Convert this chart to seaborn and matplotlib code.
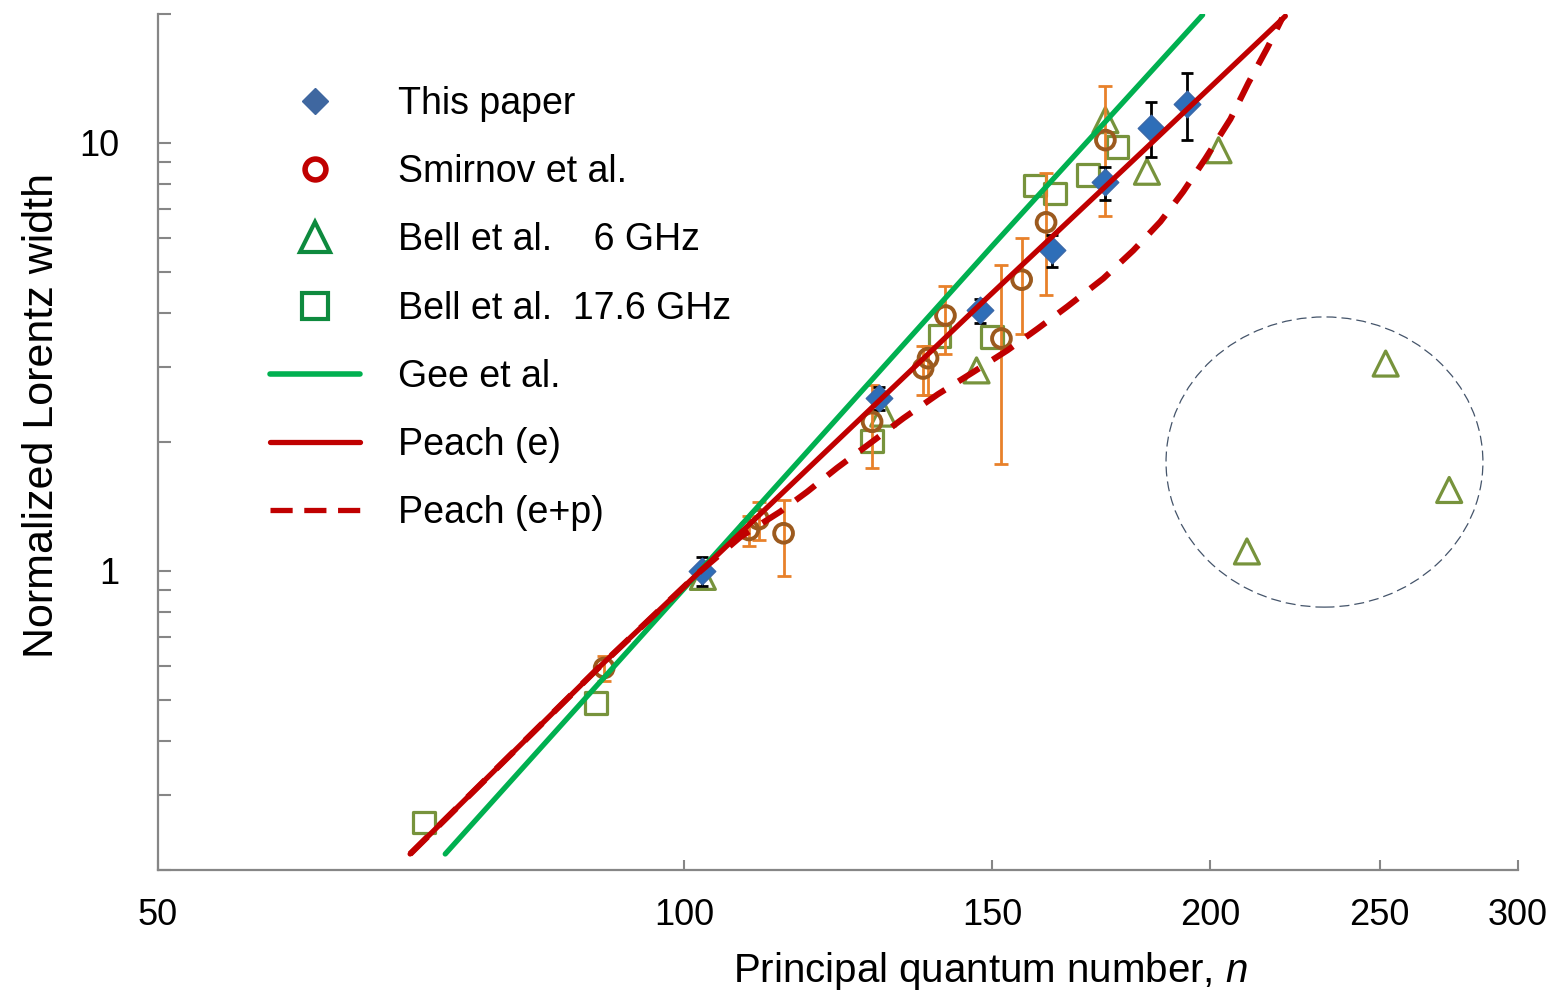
#!/usr/bin/env python3

import matplotlib
matplotlib.use("Agg")
import matplotlib.pyplot as plt
import numpy as np
import pandas as pd
import seaborn as sns
from matplotlib.lines import Line2D
from matplotlib.patches import Ellipse
from matplotlib.ticker import FixedLocator, FixedFormatter, NullLocator, NullFormatter


# This paper (blue diamonds, black error bars)
tp_n = [102.4, 129.2, 147.6, 162.3, 174.1, 185.0, 193.9]
tp_w = [1.00, 2.53, 4.06, 5.61, 8.08, 10.86, 12.35]
tp_err = [0.08, 0.16, 0.26, 0.49, 0.72, 1.6, 2.2]

# Smirnov et al. (circles, orange error bars)
sm_n = [90.0, 108.9, 110.3, 114.0, 128.1, 137.0, 137.9, 141.1, 151.9, 156.0, 161.1, 174.2]
sm_w = [0.593, 1.246, 1.32, 1.224, 2.23, 2.97, 3.14, 3.95, 3.49, 4.79, 6.52, 10.15]
sm_lo = [0.04, 0.10, 0.14, 0.25, 0.49, 0.40, 0.57, 0.74, 1.71, 1.22, 2.11, 3.39]
sm_hi = [0.04, 0.10, 0.13, 0.24, 0.49, 0.39, 0.22, 0.69, 1.68, 1.21, 2.00, 3.43]

# Bell et al. 6 GHz (triangles)
b6_n = [102.5, 130.0, 147.0, 174.2, 184.0, 202.2, 209.9, 252.0, 274.0]
b6_w = [0.968, 2.33, 2.94, 11.3, 8.56, 9.61, 1.11, 3.05, 1.545]

# Bell et al. 17.6 GHz (squares)
b17_n = [71.0, 89.05, 128.1, 140.0, 150.0, 158.8, 163.0, 170.2, 177.0]
b17_w = [0.258, 0.491, 2.01, 3.54, 3.52, 7.94, 7.62, 8.42, 9.79]

# Gee et al.
gee_n = [73.0, 100.0, 150.0, 198.0]
gee_w = [0.218, 0.909, 5.73, 19.9]

# Peach (e)
pe_n = [69.7, 89.5, 102.1, 147.5, 183.1, 220.8]
pe_w = [0.218, 0.598, 0.996, 4.17, 9.58, 19.77]

# Peach (e+p)
pep_n = [69.7, 89.5, 102.1, 107.7, 113.5, 117.6, 122.3, 127.8, 133.5, 139.7, 146.3,
         153.1, 159.4, 165.7, 173.7, 180.7, 187.3, 193.0, 198.7, 205.4, 210.3,
         215.6, 219.9]
pep_w = [0.218, 0.598, 0.996, 1.200, 1.375, 1.530, 1.739, 1.988, 2.273, 2.586, 2.910,
         3.275, 3.685, 4.147, 4.819, 5.602, 6.545, 7.69, 9.18, 11.37, 13.80,
         16.65, 19.56]

x_ticks = [50, 100, 150, 200, 250, 300]
x_tick_labels = ["50", "100", "150", "200", "250", "300"]
y_ticks = [1, 10]
y_tick_labels = ["1", "10"]

legend_labels = ["This paper", "Smirnov et al.", "Bell et al.    6 GHz",
                 "Bell et al.  17.6 GHz", "Gee et al.", "Peach (e)", "Peach (e+p)"]

BLUE = "#2E6EB8"
BROWN = "#9C5A1E"
ORANGE = "#E8812A"
OLIVE = "#77933C"
GREEN = "#00B050"
DKGREEN = "#0E8A3E"
RED = "#C00000"
GRAY = "#868686"


def plot_widths(output):
    sns.set_theme(style="white")
    plt.rcParams["font.family"] = ["Liberation Sans", "DejaVu Sans"]
    plt.rcParams["mathtext.fontset"] = "custom"
    plt.rcParams["mathtext.it"] = "Liberation Sans:italic"
    plt.rcParams["mathtext.rm"] = "Liberation Sans"
    plt.rcParams["text.color"] = "black"
    plt.rcParams["axes.labelcolor"] = "black"

    fig, ax = plt.subplots(figsize=(15.52, 9.98), dpi=100)
    fig.subplots_adjust(left=158 / 1552, right=1518 / 1552,
                        bottom=1 - 870 / 998, top=1 - 14 / 998)
    ax.set_xscale("log")
    ax.set_yscale("log")

    # open markers first
    sns.scatterplot(x=b17_n, y=b17_w, marker="s", s=15.5 ** 2, facecolor="none",
                    edgecolor=OLIVE, linewidth=2.3, ax=ax, zorder=3)
    sns.scatterplot(x=b6_n, y=b6_w, marker="^", s=18 ** 2, facecolor="none",
                    edgecolor=OLIVE, linewidth=2.3, ax=ax, zorder=3)

    ax.errorbar(sm_n, sm_w, yerr=[sm_lo, sm_hi], fmt="none", ecolor=ORANGE,
                elinewidth=2, capsize=4.7, capthick=2, zorder=4)
    sns.scatterplot(x=sm_n, y=sm_w, marker="o", s=13.5 ** 2, facecolor="none",
                    edgecolor=BROWN, linewidth=2.8, ax=ax, zorder=5)

    ax.errorbar(tp_n, tp_w, yerr=tp_err, fmt="none", ecolor="black",
                elinewidth=2, capsize=4.3, capthick=2, zorder=4)
    sns.scatterplot(x=tp_n, y=tp_w, marker="D", s=13.5 ** 2, color=BLUE,
                    edgecolor="#3B68A8", linewidth=1, ax=ax, zorder=5)

    # model curves on top
    sns.lineplot(x=gee_n, y=gee_w, sort=False, estimator=None, color=GREEN,
                 linewidth=3.8, ax=ax, zorder=6)
    sns.lineplot(x=pe_n, y=pe_w, sort=False, estimator=None, color=RED,
                 linewidth=3.8, ax=ax, zorder=6)
    sns.lineplot(x=pep_n, y=pep_w, sort=False, estimator=None, color=RED,
                 linewidth=4.4, ax=ax, zorder=6)
    ax.lines[-1].set_dashes((4, 2.6))

    # dashed ring around the outlying points
    ax.add_patch(Ellipse((0.8577, 0.4766), 0.233, 0.339, transform=ax.transAxes,
                         fill=False, edgecolor="#44546A", linewidth=0.9,
                         linestyle=(0, (8, 4)), zorder=2))

    ax.set_xlim(50, 300)
    ax.set_ylim(0.2, 20)

    ax.xaxis.set_major_locator(FixedLocator(x_ticks))
    ax.xaxis.set_major_formatter(FixedFormatter(x_tick_labels))
    ax.xaxis.set_minor_locator(NullLocator())
    ax.yaxis.set_major_locator(FixedLocator(y_ticks))
    ax.yaxis.set_major_formatter(FixedFormatter(y_tick_labels))
    y_minor = [m * 10.0 ** e for e in (-1, 0, 1) for m in range(2, 10)]
    ax.yaxis.set_minor_locator(FixedLocator([t for t in y_minor if t <= 20]))
    ax.yaxis.set_minor_formatter(NullFormatter())

    sns.despine(ax=ax)
    for side in ("left", "bottom"):
        ax.spines[side].set_color(GRAY)
        ax.spines[side].set_linewidth(1.6)
    ax.tick_params(axis="both", which="both", direction="in", color=GRAY,
                   width=1.5, labelsize=26, labelcolor="black")
    ax.tick_params(axis="x", which="both", bottom=True, length=7.5, pad=20)
    ax.tick_params(axis="y", which="both", left=True, length=9.5, pad=28)

    ax.set_xlabel("Principal quantum number, $n$", fontsize=29)
    ax.set_ylabel("Normalized Lorentz width", fontsize=31)
    ax.xaxis.set_label_coords(0.612, -0.0935)
    ax.yaxis.set_label_coords(-0.0706, 0.5315)

    handles = [
        Line2D([], [], linestyle="none", marker="D", markersize=13,
               markerfacecolor="#3F67A0", markeredgecolor="#3F67A0"),
        Line2D([], [], linestyle="none", marker="o", markersize=15,
               markerfacecolor="none", markeredgecolor=RED, markeredgewidth=4),
        Line2D([], [], linestyle="none", marker="^", markersize=21,
               markerfacecolor="none", markeredgecolor=DKGREEN, markeredgewidth=3),
        Line2D([], [], linestyle="none", marker="s", markersize=19,
               markerfacecolor="none", markeredgecolor=DKGREEN, markeredgewidth=3),
        Line2D([], [], color=GREEN, linewidth=4),
        Line2D([], [], color=RED, linewidth=3.8),
        Line2D([], [], color=RED, linewidth=3.8, dashes=(4.2, 2.2)),
    ]
    leg = ax.legend(handles, legend_labels, loc="upper left",
                    bbox_to_anchor=(0.0824, 0.916), frameon=False, fontsize=27,
                    handlelength=2.4, handletextpad=1.0, labelspacing=0.86,
                    borderpad=0, borderaxespad=0)
    for txt in leg.get_texts():
        txt.set_color("black")

    fig.savefig(output, dpi=100)
    plt.close(fig)


if __name__ == "__main__":
    plot_widths("out.png")
